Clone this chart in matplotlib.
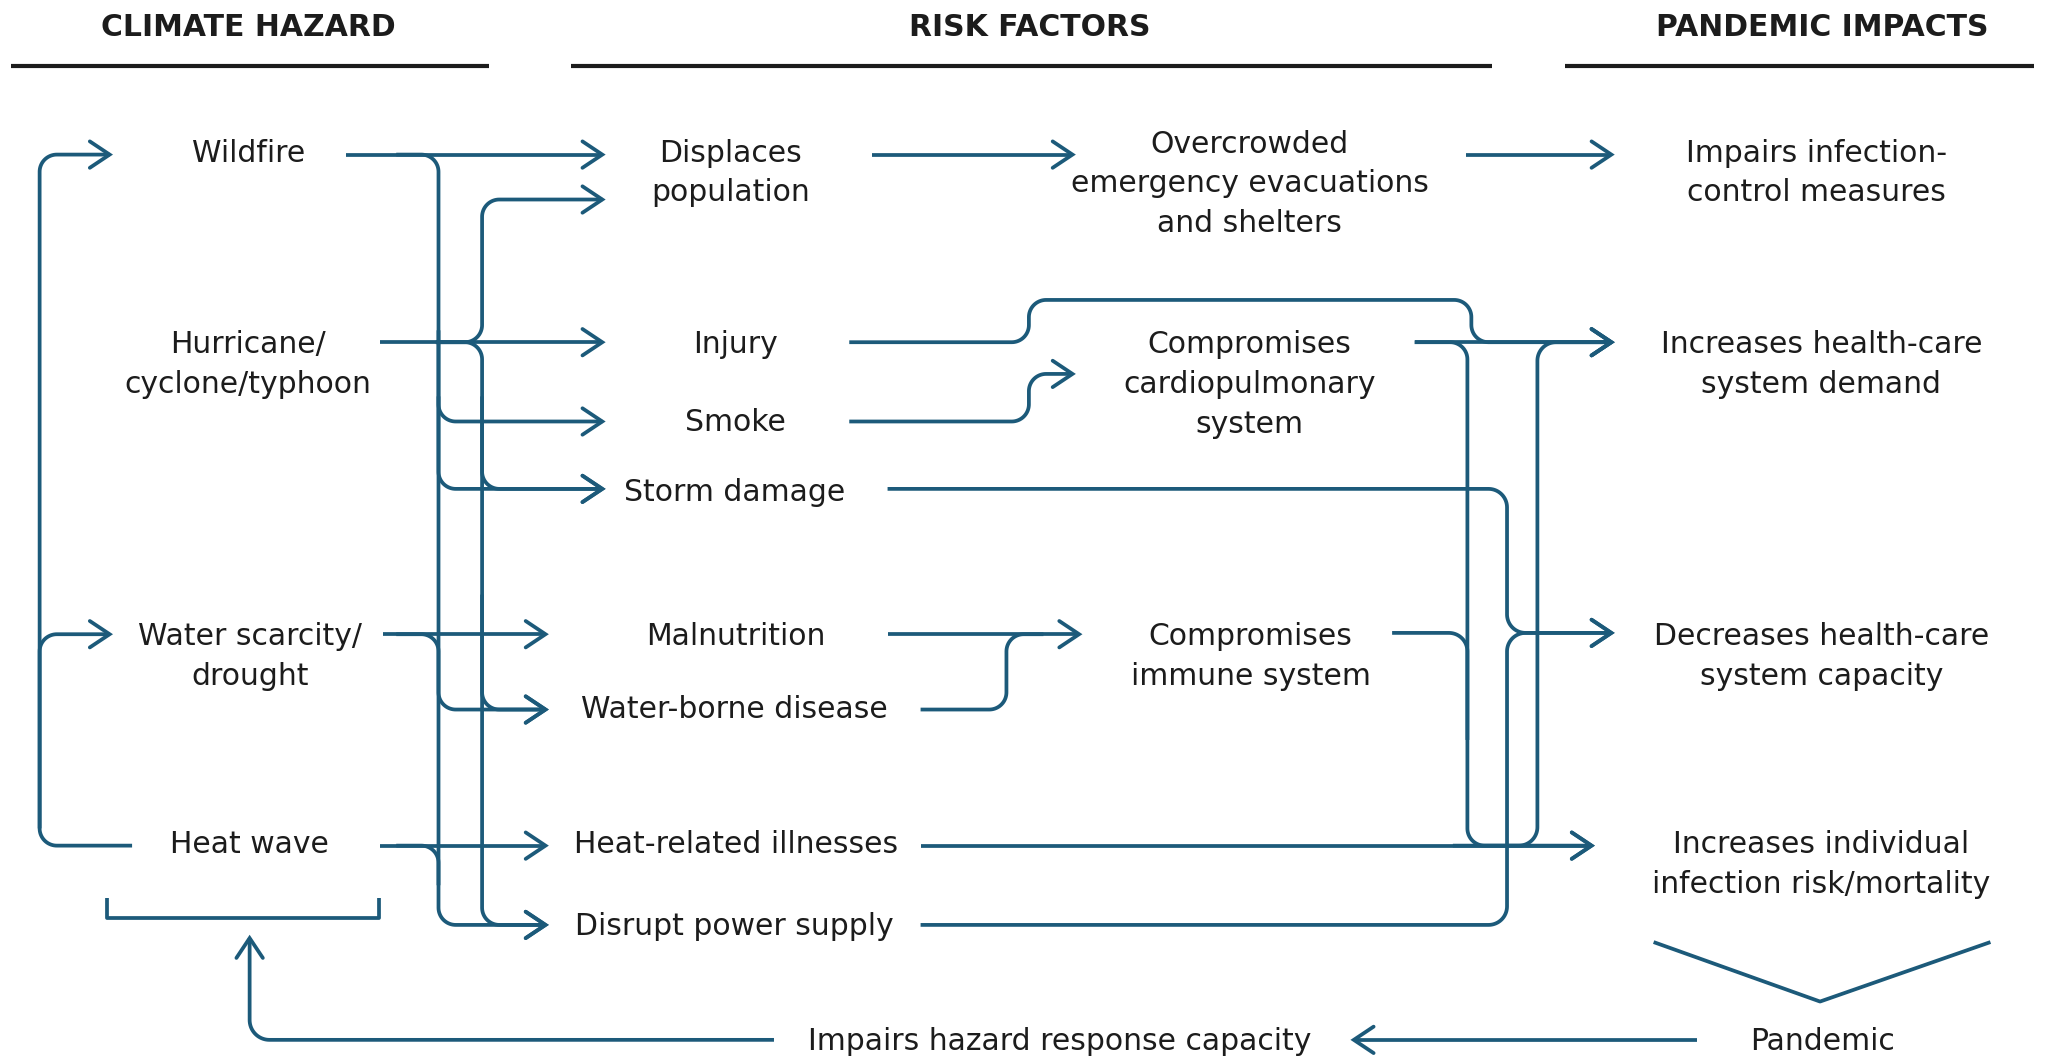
#!/usr/bin/env python3
"""
Climate hazards -> risk factors -> pandemic impacts flow diagram.
Coordinates are in pixels of a 1568x803 canvas (y down), scaled to the figure.
"""
import numpy as np
import matplotlib
matplotlib.use("Agg")
import matplotlib.pyplot as plt

BLUE = "#1c5a7a"
INK = "#1c1c1c"
FONT = "DejaVu Sans"
FS = 21.5
LW = 2.7

# ---- content ----
headers = ["CLIMATE HAZARD", "RISK FACTORS", "PANDEMIC IMPACTS"]
hazards = ["Wildfire", "Hurricane/\ncyclone/typhoon", "Water scarcity/\ndrought", "Heat wave"]
risks = ["Displaces\npopulation", "Injury", "Smoke", "Storm damage", "Malnutrition",
         "Water-borne disease", "Heat-related illnesses", "Disrupt power supply"]
mediators = ["Overcrowded\nemergency evacuations\nand shelters",
             "Compromises\ncardiopulmonary\nsystem",
             "Compromises\nimmune system"]
impacts = ["Impairs infection-\ncontrol measures", "Increases health-care\nsystem demand",
           "Decreases health-care\nsystem capacity", "Increases individual\ninfection risk/mortality"]
feedback = ["Pandemic", "Impairs hazard response capacity"]

# ---- layout ----
W, H = 1568, 803
LINE_PITCH = 30

header_x = [188, 780, 1380]
header_y = 20
header_rules = [(8, 370), (432, 1130), (1185, 1540)]
rule_y = 50

hazard_xy = [(188, 115), (188, 275), (189, 496), (189, 638)]
risk_xy = [(553, 130), (557, 260), (557, 319), (556, 372), (557, 481),
           (556, 536), (557, 638), (556, 700)]
mediator_xy = [(946, 138), (946, 290), (947, 496)]
impact_xy = [(1375, 130), (1379, 275), (1379, 496), (1379, 653)]
feedback_xy = [(1380, 787), (802, 787)]

# connector routes: (points, corner radius, arrow at end)
routes = [
    # feedback loop on the left
    ([(100, 640), (30, 640), (30, 117), (83, 117)], 13, True),
    ([(30, 627), (30, 480), (83, 480)], 13, True),
    # hazards -> risk factors
    ([(262, 117), (456, 117)], 13, True),
    ([(300, 117), (332, 117), (332, 700), (413, 700)], 13, True),
    ([(332, 250), (332, 319), (456, 319)], 13, True),
    ([(332, 300), (332, 370), (456, 370)], 13, True),
    ([(288, 259), (456, 259)], 13, True),
    ([(330, 259), (365, 259), (365, 151), (456, 151)], 13, True),
    ([(330, 259), (365, 259), (365, 700), (413, 700)], 13, True),
    ([(365, 300), (365, 370), (456, 370)], 13, True),
    ([(365, 450), (365, 537), (413, 537)], 13, True),
    ([(290, 480), (413, 480)], 13, True),
    ([(300, 480), (332, 480), (332, 537), (413, 537)], 13, True),
    ([(288, 640), (413, 640)], 13, True),
    ([(300, 640), (332, 640), (332, 670)], 13, False),
    # risk factors -> mediators / impacts
    ([(660, 117), (812, 117)], 13, True),
    ([(1110, 117), (1220, 117)], 13, True),
    ([(643, 259), (779, 259), (779, 227), (1114, 227), (1114, 259), (1220, 259)], 13, True),
    ([(643, 319), (779, 319), (779, 283), (812, 283)], 13, True),
    ([(1071, 259), (1220, 259)], 13, True),
    ([(1071, 259), (1111, 259), (1111, 640), (1205, 640)], 13, True),
    ([(672, 370), (1141, 370), (1141, 479), (1220, 479)], 14, True),
    ([(697, 700), (1141, 700), (1141, 479), (1220, 479)], 14, True),
    ([(672, 480), (817, 480)], 13, True),
    ([(697, 537), (762, 537), (762, 480), (790, 480)], 13, False),
    ([(1054, 479), (1111, 479), (1111, 560)], 14, False),
    ([(697, 640), (1205, 640)], 13, True),
    ([(1100, 640), (1164, 640), (1164, 259), (1220, 259)], 14, True),
    # pandemic feedback at the bottom
    ([(1285, 787), (1025, 787)], 13, True),
    ([(586, 787), (189, 787), (189, 710)], 15, True),
    ([(81, 680), (81, 695), (287, 695), (287, 680)], 0, False),
    ([(1252, 713), (1378, 758), (1507, 713)], 0, False),
]


def rounded(points, r):
    # orthogonal polyline with circular-arc corners
    pts = np.asarray(points, float)
    out = [pts[0]]
    for i in range(1, len(pts) - 1):
        p0, p1, p2 = pts[i - 1], pts[i], pts[i + 1]
        l1, l2 = np.linalg.norm(p1 - p0), np.linalg.norm(p2 - p1)
        d1, d2 = (p1 - p0) / l1, (p2 - p1) / l2
        rr = min(r, l1 * 0.5, l2 * 0.5)
        if rr <= 0 or abs(np.dot(d1, d2)) > 1e-6:
            out.append(p1)
            continue
        a = p1 - d1 * rr
        c = a + d2 * rr
        th = np.linspace(0, np.pi / 2, 20)[:, None]
        out.extend(c + np.cos(th) * (-d2 * rr) + np.sin(th) * (d1 * rr))
    out.append(pts[-1])
    return np.array(out)


def head(ax, tip, prev, L=15, Hh=10):
    tip, prev = np.asarray(tip, float), np.asarray(prev, float)
    d = (tip - prev) / np.linalg.norm(tip - prev)
    p = np.array([-d[1], d[0]])
    xy = np.array([tip - d * L + p * Hh, tip, tip - d * L - p * Hh])
    ax.plot(xy[:, 0], xy[:, 1], color=BLUE, lw=LW, solid_capstyle="round",
            solid_joinstyle="miter")


def label(ax, text, x, y, **kw):
    lines = text.split("\n")
    n = len(lines)
    for i, s in enumerate(lines):
        yy = y + (i - (n - 1) / 2) * LINE_PITCH + 7.5
        ax.text(x, yy, s, ha="center", va="baseline", color=INK,
                fontsize=FS, family=FONT, **kw)


fig = plt.figure(figsize=(20.71, 10.61), dpi=100)
ax = fig.add_axes([0, 0, 1, 1])
ax.set_xlim(0, W)
ax.set_ylim(H, 0)
ax.axis("off")

for txt, x in zip(headers, header_x):
    label(ax, txt, x, header_y, fontweight="bold")
for x0, x1 in header_rules:
    ax.plot([x0, x1], [rule_y, rule_y], color=INK, lw=3.0, solid_capstyle="butt")

for group, pos in [(hazards, hazard_xy), (risks, risk_xy), (mediators, mediator_xy),
                   (impacts, impact_xy), (feedback, feedback_xy)]:
    for txt, (x, y) in zip(group, pos):
        label(ax, txt, x, y)

for pts, r, arrow in routes:
    xy = rounded(pts, r)
    ax.plot(xy[:, 0], xy[:, 1], color=BLUE, lw=LW, solid_capstyle="butt",
            solid_joinstyle="round")
    if arrow:
        head(ax, pts[-1], pts[-2])

fig.savefig("out.png", dpi=100, facecolor="white")
